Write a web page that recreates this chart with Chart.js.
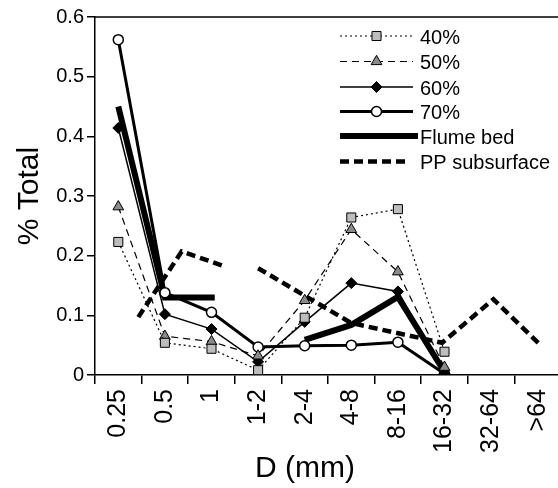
<!DOCTYPE html>
<html>
<head>
<meta charset="utf-8">
<script src="https://cdn.jsdelivr.net/npm/chart.js@4.4.1/dist/chart.umd.min.js"></script>
<style>
  html, body { margin: 0; padding: 0; background: #fff; overflow: hidden; }
  #wrap { width: 558px; height: 488px; overflow: hidden; }
</style>
</head>
<body>
<div id="wrap"><canvas id="sizeChart" width="580" height="488"></canvas></div>
<script>
// size classes along the bottom
const sizeClasses = ['0.25', '0.5', '1', '1-2', '2-4', '4-8', '8-16', '16-32', '32-64', '>64'];

// fraction of total per class
const pct40 = [0.223, 0.054, 0.044, 0.008, 0.096, 0.264, 0.278, 0.039];
const pct50 = [0.282, 0.065, 0.056, 0.032, 0.125, 0.244, 0.173, 0.013];
const pct60 = [0.414, 0.102, 0.077, 0.022, 0.089, 0.154, 0.140, 0.003];
const pct70 = [0.562, 0.138, 0.105, 0.047, 0.049, 0.050, 0.055, 0.002];

// flume bed + PP subsurface are plotted at their own positions (class index units)
const flumeX = [0, 1, 2.07, 3, 4, 5, 6, 7];
const flumeY = [0.45, 0.13, 0.13, null, 0.059, 0.084, 0.131, 0.005];
const ppX = [0.43, 1.36, 2.29, 2.6, 3.0, 5.0, 6.95, 8.05, 9.02];
const ppY = [0.097, 0.207, 0.182, null, 0.179, 0.087, 0.054, 0.127, 0.053];

const font = "'Liberation Sans', Arial, sans-serif";

const toPoints = (xs, ys) => xs.map((x, i) => ({ x: x, y: ys[i] }));
const byIndex = (ys) => ys.map((y, i) => ({ x: i, y: y }));

// legend drawn inside the plot, top right, line sample + marker
const legendBox = {
  id: 'legendBox',
  afterDraw(chart) {
    const ctx = chart.ctx;
    const x0 = 340, x1 = 413, rows = [36, 61.5, 87, 111.5, 136, 161.5];
    chart.data.datasets.forEach((ds, i) => {
      const y = rows[i];
      ctx.save();
      ctx.strokeStyle = '#000';
      ctx.lineWidth = ds.borderWidth;
      ctx.setLineDash(ds.borderDash || []);
      ctx.beginPath();
      ctx.moveTo(x0, y);
      ctx.lineTo(ds.legendEnd || x1, y);
      ctx.stroke();
      ctx.setLineDash([]);
      if (ds.pointRadius > 0) {
        ctx.fillStyle = ds.pointBackgroundColor;
        ctx.strokeStyle = ds.pointBorderColor;
        ctx.lineWidth = ds.pointBorderWidth;
        Chart.helpers.drawPoint(ctx, {
          pointStyle: ds.pointStyle, radius: ds.pointRadius, rotation: 0, borderWidth: ds.pointBorderWidth
        }, (x0 + x1) / 2, y);
      }
      ctx.fillStyle = '#000';
      ctx.font = '20px ' + font;
      ctx.textBaseline = 'middle';
      ctx.textAlign = 'left';
      ctx.fillText(ds.label, 420, y + 2);
      ctx.restore();
    });
  }
};

// top frame line + axis titles
const frame = {
  id: 'frame',
  afterDraw(chart) {
    const ctx = chart.ctx;
    const a = chart.chartArea;
    ctx.save();
    ctx.strokeStyle = '#000';
    ctx.lineWidth = 1.5;
    ctx.beginPath();
    ctx.moveTo(a.left, a.top);
    ctx.lineTo(a.right, a.top);
    ctx.stroke();
    ctx.fillStyle = '#000';
    ctx.font = '30px ' + font;
    ctx.textAlign = 'center';
    ctx.textBaseline = 'middle';
    ctx.fillText('D (mm)', 305, 469);
    ctx.translate(30, (a.top + a.bottom) / 2);
    ctx.rotate(-Math.PI / 2);
    ctx.fillText('% Total', 0, 0);
    ctx.restore();
  }
};

new Chart(document.getElementById('sizeChart'), {
  type: 'line',
  data: {
    datasets: [
      {
        label: '40%', data: byIndex(pct40),
        borderColor: '#000', borderWidth: 1.2, borderDash: [2, 3],
        pointStyle: 'rect', pointRadius: 6.4, pointBackgroundColor: '#bdbdbd',
        pointBorderColor: '#000', pointBorderWidth: 1
      },
      {
        label: '50%', data: byIndex(pct50),
        borderColor: '#000', borderWidth: 1.2, borderDash: [7, 5],
        pointStyle: 'triangle', pointRadius: 6.2, pointBackgroundColor: '#8a8a8a',
        pointBorderColor: '#000', pointBorderWidth: 1
      },
      {
        label: '60%', data: byIndex(pct60),
        borderColor: '#000', borderWidth: 1.5,
        pointStyle: 'rectRot', pointRadius: 5.5, pointBackgroundColor: '#000',
        pointBorderColor: '#000', pointBorderWidth: 1
      },
      {
        label: '70%', data: byIndex(pct70),
        borderColor: '#000', borderWidth: 3,
        pointStyle: 'circle', pointRadius: 5, pointBackgroundColor: '#fff',
        pointBorderColor: '#000', pointBorderWidth: 1.5
      },
      {
        label: 'Flume bed', data: toPoints(flumeX, flumeY),
        borderColor: '#000', borderWidth: 6, pointRadius: 0, legendEnd: 418
      },
      {
        label: 'PP subsurface', data: toPoints(ppX, ppY),
        borderColor: '#000', borderWidth: 4.5, borderDash: [9, 5], pointRadius: 0, legendEnd: 408
      }
    ]
  },
  options: {
    responsive: false,
    animation: false,
    spanGaps: false,
    layout: { padding: { left: 0, top: 17, right: 19, bottom: 0 } },
    plugins: { legend: { display: false }, tooltip: { enabled: false } },
    elements: { line: { tension: 0, borderJoinStyle: 'miter' } },
    scales: {
      x: {
        type: 'linear', min: -0.5, max: 9.5, display: false
      },
      xc: {
        type: 'category', position: 'bottom', labels: sizeClasses, offset: true,
        grid: { offset: true, drawOnChartArea: false, drawTicks: true, tickLength: 9, color: '#000', lineWidth: 1.5 },
        border: { display: true, color: '#000', width: 1.5 },
        ticks: { color: '#000', font: { family: font, size: 25 }, minRotation: 90, maxRotation: 90, autoSkip: false, padding: 5 },
        afterFit: (s) => { s.height = 113; }
      },
      y: {
        min: 0, max: 0.6,
        grid: { drawOnChartArea: false, drawTicks: true, tickLength: 8, color: '#000', lineWidth: 1.5 },
        border: { display: true, color: '#000', width: 1.5 },
        ticks: {
          stepSize: 0.1, color: '#000', padding: 3,
          font: { family: font, size: 20 },
          callback: (v) => v === 0 ? '0' : v.toFixed(1)
        },
        afterFit: (s) => { s.width = 95; }
      }
    }
  },
  plugins: [legendBox, frame]
});
</script>
</body>
</html>
